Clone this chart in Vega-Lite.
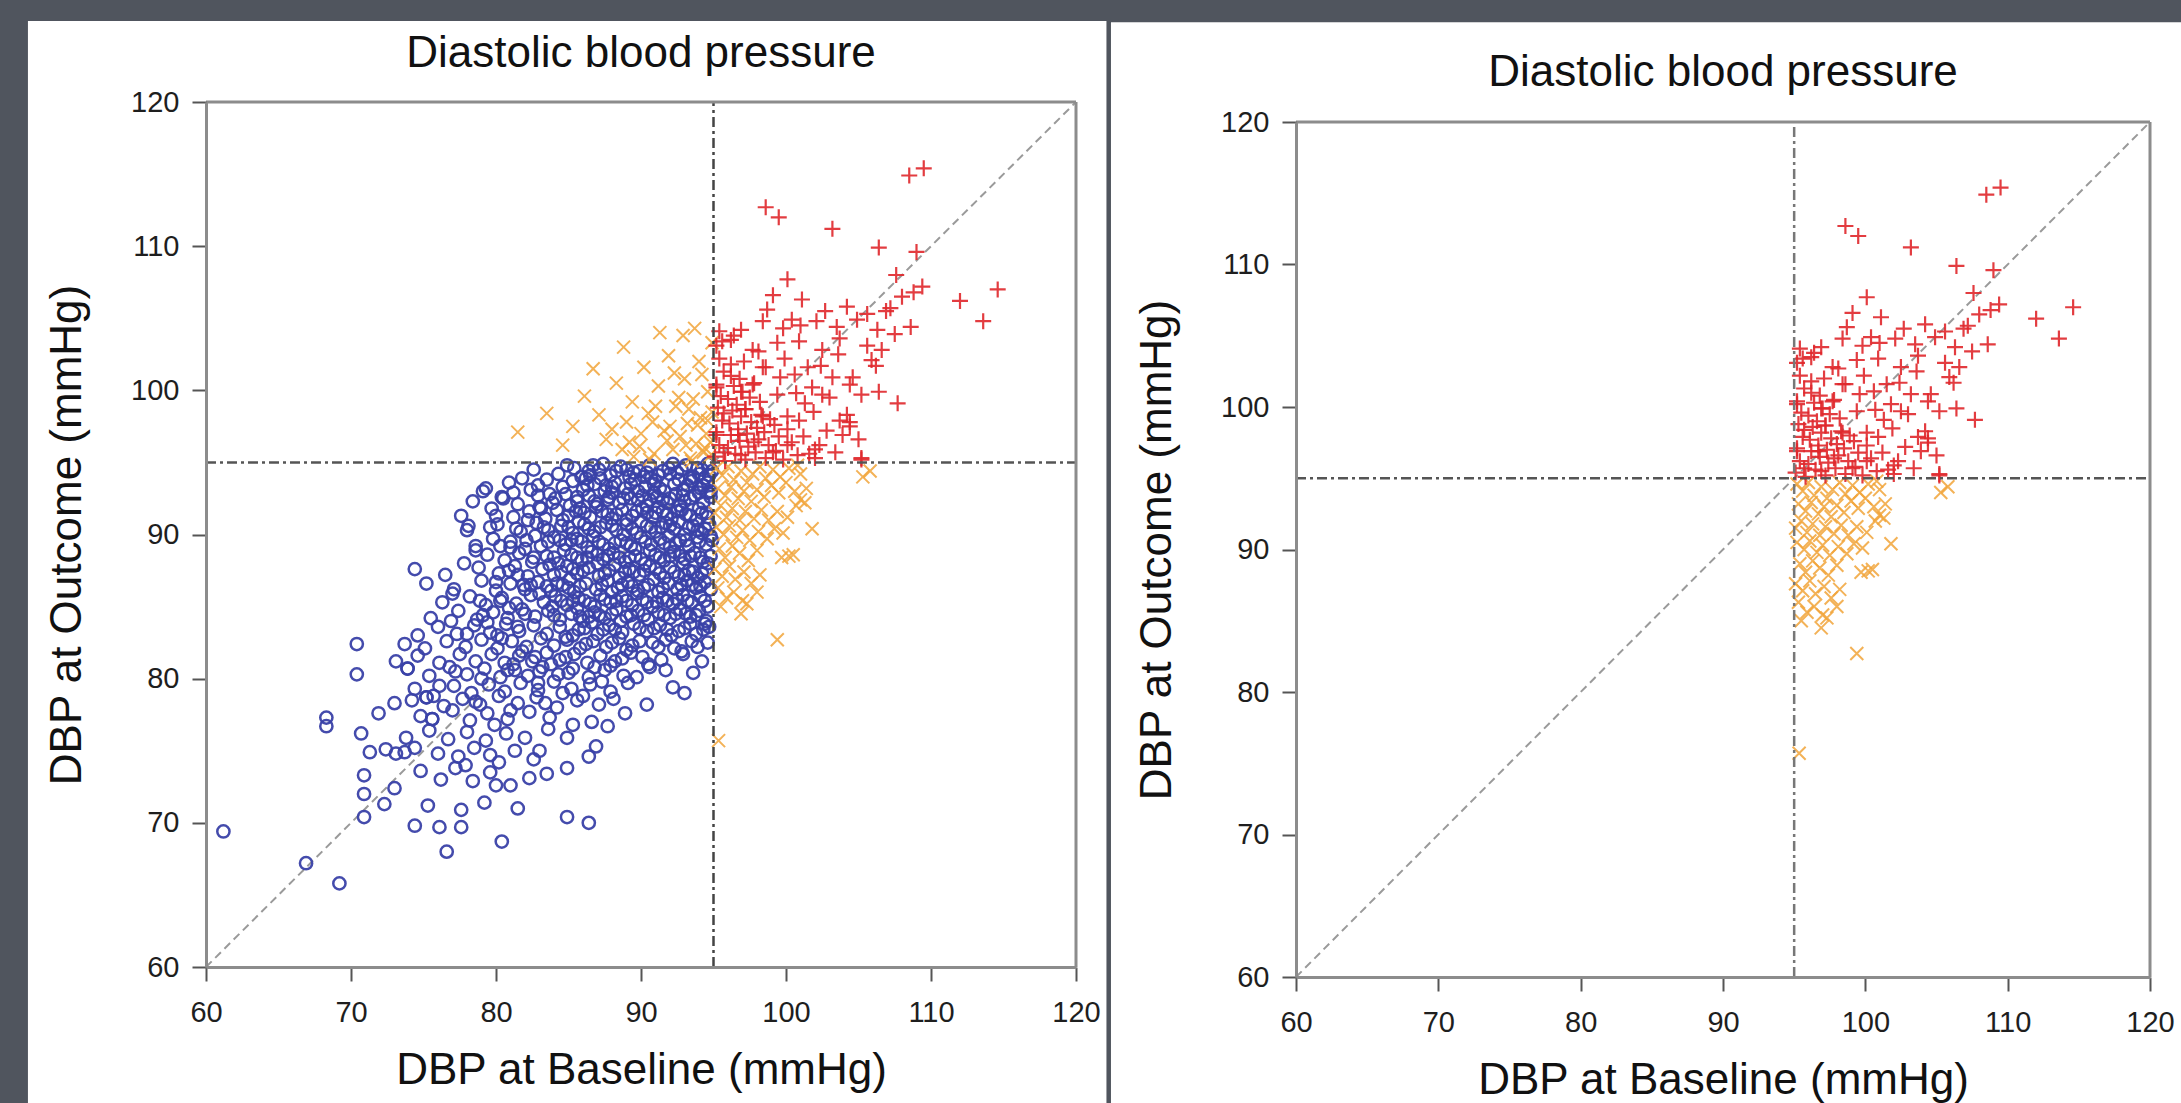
{
  "$schema": "https://vega.github.io/schema/vega-lite/v6.json",
  "background": "#50555e",
  "padding": {"left": 27, "top": 20, "right": 0, "bottom": 0},
  "bounds": "flush",
  "spacing": 220,
  "config": {
    "font": "Liberation Sans",
    "view": {"stroke": null},
    "axis": {"grid": false, "domainColor": "#8c8c8c", "domainWidth": 3, "tickColor": "#555555", "tickWidth": 2, "tickSize": 14, "labelFontSize": 29, "labelColor": "#1e1e1e", "labelFlush": false, "labelFont": "Liberation Sans", "titleFont": "Liberation Sans", "titleFontSize": 44, "titleFontWeight": "normal", "titleColor": "#111111"},
    "axisX": {"labelPadding": 17, "titlePadding": 21},
    "axisY": {"labelPadding": 13, "titlePadding": 41},
    "title": {"fontSize": 44, "fontWeight": "normal", "color": "#111111", "baseline": "alphabetic", "anchor": "middle", "frame": "group", "font": "Liberation Sans"}
  },
  "datasets": {
    "blue": [
      {"b":84.3,"o":94.2},{"b":85.4,"o":94.6},{"b":86.2,"o":93.9},{"b":87.1,"o":94.5},{"b":87.9,"o":94.1},{"b":88.6,"o":94.7},{"b":89.2,"o":94.0},{"b":89.9,"o":94.4},{"b":90.6,"o":94.8},{"b":91.2,"o":94.1},{"b":91.9,"o":94.6},{"b":92.5,"o":94.3},{"b":93.1,"o":94.8},{"b":93.6,"o":94.0},{"b":94.2,"o":94.5},{"b":94.7,"o":94.1},{"b":86.7,"o":94.8},{"b":88.3,"o":94.4},{"b":90.2,"o":94.0},{"b":92.2,"o":94.9},{"b":93.9,"o":94.6},{"b":94.6,"o":94.9},{"b":82.6,"o":94.5},{"b":85.9,"o":94.0},
      {"b":79.3,"o":93.2},{"b":80.9,"o":93.6},{"b":82.4,"o":93.1},{"b":83.5,"o":93.8},{"b":84.6,"o":93.3},{"b":85.3,"o":93.7},{"b":86.0,"o":93.1},{"b":86.8,"o":93.5},{"b":87.5,"o":93.0},{"b":88.2,"o":93.6},{"b":88.9,"o":93.2},{"b":89.6,"o":93.8},{"b":90.3,"o":93.3},{"b":91.0,"o":93.7},{"b":91.6,"o":93.0},{"b":92.3,"o":93.5},{"b":92.9,"o":93.1},{"b":93.5,"o":93.7},{"b":94.1,"o":93.2},{"b":94.6,"o":93.6},{"b":87.2,"o":93.9},{"b":90.7,"o":93.9},{"b":93.2,"o":93.4},{"b":94.8,"o":93.0},
      {"b":78.4,"o":92.3},{"b":80.4,"o":92.6},{"b":81.5,"o":92.1},{"b":82.9,"o":92.7},{"b":83.9,"o":92.2},{"b":84.8,"o":92.8},{"b":85.6,"o":92.3},{"b":86.4,"o":92.7},{"b":87.0,"o":92.1},{"b":87.8,"o":92.6},{"b":88.5,"o":92.2},{"b":89.1,"o":92.8},{"b":89.8,"o":92.4},{"b":90.4,"o":92.0},{"b":91.1,"o":92.6},{"b":91.8,"o":92.2},{"b":92.4,"o":92.8},{"b":93.0,"o":92.3},{"b":93.7,"o":92.7},{"b":94.3,"o":92.2},{"b":94.8,"o":92.6},{"b":85.1,"o":92.0},{"b":88.0,"o":92.9},{"b":90.9,"o":92.9},{"b":92.7,"o":92.0},{"b":94.0,"o":92.9},
      {"b":77.6,"o":91.3},{"b":79.7,"o":91.8},{"b":81.2,"o":91.2},{"b":82.3,"o":91.6},{"b":83.4,"o":91.1},{"b":84.2,"o":91.7},{"b":85.0,"o":91.3},{"b":85.8,"o":91.8},{"b":86.5,"o":91.2},{"b":87.3,"o":91.6},{"b":88.0,"o":91.1},{"b":88.7,"o":91.7},{"b":89.4,"o":91.3},{"b":90.1,"o":91.8},{"b":90.8,"o":91.2},{"b":91.5,"o":91.6},{"b":92.1,"o":91.1},{"b":92.8,"o":91.7},{"b":93.4,"o":91.3},{"b":94.0,"o":91.8},{"b":94.6,"o":91.2},{"b":86.9,"o":91.9},{"b":89.0,"o":91.0},{"b":91.2,"o":91.9},{"b":93.8,"o":91.0},{"b":83.0,"o":91.9},
      {"b":78.0,"o":90.3},{"b":80.1,"o":90.7},{"b":81.7,"o":90.2},{"b":82.8,"o":90.8},{"b":83.6,"o":90.3},{"b":84.5,"o":90.6},{"b":85.3,"o":90.1},{"b":86.1,"o":90.7},{"b":86.8,"o":90.2},{"b":87.6,"o":90.8},{"b":88.3,"o":90.3},{"b":89.0,"o":90.7},{"b":89.7,"o":90.1},{"b":90.4,"o":90.6},{"b":91.0,"o":90.2},{"b":91.7,"o":90.8},{"b":92.3,"o":90.4},{"b":93.0,"o":90.0},{"b":93.6,"o":90.6},{"b":94.2,"o":90.1},{"b":94.7,"o":90.7},{"b":85.7,"o":90.9},{"b":88.8,"o":90.0},{"b":92.6,"o":90.9},{"b":90.0,"o":90.9},{"b":94.4,"o":90.4},
      {"b":78.6,"o":89.2},{"b":79.8,"o":89.7},{"b":81.0,"o":89.1},{"b":82.1,"o":89.6},{"b":83.1,"o":89.2},{"b":84.0,"o":89.8},{"b":84.8,"o":89.3},{"b":85.6,"o":89.7},{"b":86.3,"o":89.1},{"b":87.1,"o":89.5},{"b":87.8,"o":89.0},{"b":88.6,"o":89.6},{"b":89.3,"o":89.2},{"b":90.0,"o":89.8},{"b":90.7,"o":89.3},{"b":91.3,"o":89.7},{"b":92.0,"o":89.1},{"b":92.7,"o":89.6},{"b":93.3,"o":89.2},{"b":93.9,"o":89.8},{"b":94.5,"o":89.3},{"b":82.7,"o":89.9},{"b":86.7,"o":89.9},{"b":89.6,"o":89.0},{"b":91.9,"o":89.9},{"b":94.9,"o":89.6},
      {"b":77.8,"o":88.0},{"b":79.4,"o":88.6},{"b":80.6,"o":88.2},{"b":81.6,"o":88.7},{"b":82.5,"o":88.1},{"b":83.5,"o":88.5},{"b":84.3,"o":88.0},{"b":85.2,"o":88.6},{"b":85.9,"o":88.2},{"b":86.6,"o":88.8},{"b":87.4,"o":88.3},{"b":88.1,"o":88.7},{"b":88.9,"o":88.1},{"b":89.6,"o":88.5},{"b":90.3,"o":88.0},{"b":91.0,"o":88.6},{"b":91.6,"o":88.2},{"b":92.3,"o":88.8},{"b":93.0,"o":88.3},{"b":93.7,"o":88.7},{"b":94.3,"o":88.1},{"b":94.8,"o":88.5},{"b":84.7,"o":88.9},{"b":87.0,"o":88.0},{"b":90.6,"o":88.9},{"b":92.9,"o":88.0},
      {"b":74.4,"o":87.6},{"b":76.5,"o":87.2},{"b":78.8,"o":87.7},{"b":80.2,"o":87.3},{"b":81.3,"o":87.8},{"b":82.2,"o":87.1},{"b":83.2,"o":87.6},{"b":84.0,"o":87.2},{"b":84.9,"o":87.8},{"b":85.6,"o":87.3},{"b":86.4,"o":87.7},{"b":87.1,"o":87.1},{"b":87.8,"o":87.5},{"b":88.5,"o":87.0},{"b":89.2,"o":87.6},{"b":89.9,"o":87.2},{"b":90.6,"o":87.8},{"b":91.3,"o":87.3},{"b":92.0,"o":87.7},{"b":92.6,"o":87.1},{"b":93.3,"o":87.5},{"b":93.9,"o":87.0},{"b":94.5,"o":87.6},{"b":83.7,"o":87.9},{"b":88.2,"o":87.9},{"b":91.6,"o":87.0},
      {"b":75.2,"o":86.6},{"b":77.1,"o":86.2},{"b":79.0,"o":86.8},{"b":80.0,"o":86.1},{"b":81.0,"o":86.6},{"b":82.0,"o":86.2},{"b":82.9,"o":86.7},{"b":83.8,"o":86.1},{"b":84.6,"o":86.5},{"b":85.4,"o":86.0},{"b":86.2,"o":86.6},{"b":86.9,"o":86.2},{"b":87.7,"o":86.8},{"b":88.4,"o":86.3},{"b":89.1,"o":86.7},{"b":89.8,"o":86.1},{"b":90.5,"o":86.5},{"b":91.2,"o":86.0},{"b":91.9,"o":86.6},{"b":92.5,"o":86.2},{"b":93.2,"o":86.8},{"b":93.8,"o":86.3},{"b":94.4,"o":86.7},{"b":85.1,"o":86.9},{"b":88.0,"o":86.0},{"b":90.9,"o":86.9},
      {"b":76.3,"o":85.3},{"b":78.2,"o":85.7},{"b":79.3,"o":85.1},{"b":80.4,"o":85.6},{"b":81.4,"o":85.2},{"b":82.4,"o":85.8},{"b":83.3,"o":85.3},{"b":84.1,"o":85.7},{"b":84.9,"o":85.1},{"b":85.7,"o":85.6},{"b":86.5,"o":85.2},{"b":87.2,"o":85.8},{"b":87.9,"o":85.3},{"b":88.7,"o":85.7},{"b":89.4,"o":85.1},{"b":90.1,"o":85.5},{"b":90.8,"o":85.0},{"b":91.5,"o":85.6},{"b":92.2,"o":85.2},{"b":92.9,"o":85.8},{"b":93.5,"o":85.3},{"b":94.1,"o":85.7},{"b":94.6,"o":85.0},{"b":83.0,"o":85.9},{"b":86.8,"o":85.0},{"b":89.7,"o":85.9},
      {"b":75.5,"o":84.2},{"b":77.4,"o":84.7},{"b":78.7,"o":84.1},{"b":79.8,"o":84.6},{"b":80.8,"o":84.2},{"b":81.8,"o":84.8},{"b":82.7,"o":84.3},{"b":83.6,"o":84.7},{"b":84.4,"o":84.1},{"b":85.2,"o":84.5},{"b":86.0,"o":84.0},{"b":86.8,"o":84.6},{"b":87.5,"o":84.2},{"b":88.3,"o":84.8},{"b":89.0,"o":84.3},{"b":89.8,"o":84.7},{"b":90.5,"o":84.1},{"b":91.2,"o":84.6},{"b":92.0,"o":84.2},{"b":92.7,"o":84.8},{"b":93.4,"o":84.3},{"b":94.0,"o":84.7},{"b":94.5,"o":84.0},{"b":85.6,"o":84.9},{"b":88.6,"o":84.0},
      {"b":74.6,"o":83.0},{"b":76.0,"o":83.6},{"b":77.3,"o":83.1},{"b":78.5,"o":83.7},{"b":79.6,"o":83.2},{"b":80.7,"o":83.8},{"b":81.6,"o":83.3},{"b":82.6,"o":83.7},{"b":83.5,"o":83.1},{"b":84.4,"o":83.6},{"b":85.3,"o":83.0},{"b":86.1,"o":83.5},{"b":87.0,"o":83.1},{"b":87.8,"o":83.7},{"b":88.7,"o":83.2},{"b":89.5,"o":83.8},{"b":90.4,"o":83.3},{"b":91.3,"o":83.7},{"b":92.1,"o":83.0},{"b":93.0,"o":83.5},{"b":93.8,"o":83.1},{"b":94.4,"o":83.8},
      {"b":73.7,"o":82.4},{"b":75.1,"o":82.1},{"b":76.6,"o":82.6},{"b":77.9,"o":82.2},{"b":79.0,"o":82.7},{"b":80.1,"o":82.1},{"b":81.1,"o":82.6},{"b":82.1,"o":82.2},{"b":83.1,"o":82.8},{"b":84.0,"o":82.3},{"b":84.9,"o":82.7},{"b":85.8,"o":82.1},{"b":86.7,"o":82.6},{"b":87.6,"o":82.2},{"b":88.5,"o":82.8},{"b":89.4,"o":82.3},{"b":90.8,"o":82.5},{"b":92.3,"o":82.1},{"b":93.5,"o":82.6},{"b":70.4,"o":82.4},
      {"b":73.1,"o":81.2},{"b":74.6,"o":81.6},{"b":76.1,"o":81.1},{"b":77.5,"o":81.7},{"b":78.6,"o":81.2},{"b":79.7,"o":81.7},{"b":80.6,"o":81.1},{"b":81.6,"o":81.6},{"b":82.5,"o":81.2},{"b":83.5,"o":81.8},{"b":84.4,"o":81.3},{"b":85.4,"o":81.7},{"b":86.3,"o":81.1},{"b":87.2,"o":81.6},{"b":88.2,"o":81.2},{"b":89.3,"o":81.8},{"b":91.4,"o":81.3},{"b":92.9,"o":81.7},
      {"b":70.4,"o":80.3},{"b":73.9,"o":80.7},{"b":75.4,"o":80.2},{"b":76.8,"o":80.8},{"b":78.0,"o":80.3},{"b":79.2,"o":80.7},{"b":80.3,"o":80.1},{"b":81.3,"o":80.6},{"b":82.2,"o":80.2},{"b":83.2,"o":80.8},{"b":84.3,"o":80.3},{"b":85.3,"o":80.7},{"b":86.4,"o":80.1},{"b":87.5,"o":80.6},{"b":88.8,"o":80.2},{"b":90.6,"o":80.8},{"b":92.2,"o":79.4},{"b":93.6,"o":80.4},
      {"b":74.4,"o":79.3},{"b":75.7,"o":78.8},{"b":77.1,"o":79.5},{"b":78.3,"o":79.0},{"b":79.5,"o":79.6},{"b":80.6,"o":79.1},{"b":81.7,"o":79.7},{"b":82.9,"o":79.2},{"b":84.0,"o":79.8},{"b":85.2,"o":79.3},{"b":86.5,"o":79.6},{"b":87.9,"o":79.1},{"b":89.1,"o":79.7},
      {"b":73.0,"o":78.3},{"b":75.2,"o":78.7},{"b":76.4,"o":78.1},{"b":77.7,"o":78.6},{"b":78.9,"o":78.2},{"b":80.2,"o":78.8},{"b":81.5,"o":78.3},{"b":82.8,"o":78.7},{"b":84.2,"o":78.0},{"b":85.6,"o":78.5},{"b":87.1,"o":78.2},{"b":90.4,"o":78.2},
      {"b":68.3,"o":77.3},{"b":68.3,"o":76.7},{"b":71.9,"o":77.6},{"b":74.8,"o":77.4},{"b":75.6,"o":77.2},{"b":77.0,"o":77.8},{"b":78.2,"o":77.1},{"b":79.4,"o":77.6},{"b":80.8,"o":77.2},{"b":82.3,"o":77.7},{"b":83.7,"o":77.3},{"b":86.6,"o":77.0},{"b":87.7,"o":76.7},
      {"b":70.7,"o":76.2},{"b":73.8,"o":75.9},{"b":75.4,"o":76.4},{"b":76.7,"o":75.8},{"b":78.0,"o":76.3},{"b":79.3,"o":75.7},{"b":80.7,"o":76.2},{"b":82.0,"o":75.9},{"b":83.6,"o":76.5},{"b":84.9,"o":75.9},{"b":86.9,"o":75.3},
      {"b":71.3,"o":74.9},{"b":72.4,"o":75.1},{"b":73.1,"o":74.8},{"b":73.7,"o":74.9},{"b":74.4,"o":75.2},{"b":77.4,"o":74.6},{"b":78.5,"o":75.2},{"b":79.6,"o":74.7},{"b":81.3,"o":75.0},{"b":82.6,"o":74.4},{"b":83.5,"o":73.4},{"b":84.9,"o":73.8},{"b":86.4,"o":74.6},
      {"b":70.9,"o":73.3},{"b":73.0,"o":72.4},{"b":74.8,"o":73.6},{"b":76.2,"o":73.0},{"b":77.2,"o":73.8},{"b":78.4,"o":72.9},{"b":79.6,"o":73.5},{"b":80.0,"o":72.6},{"b":81.0,"o":72.6},{"b":82.3,"o":73.1},
      {"b":70.9,"o":72.0},{"b":70.9,"o":70.4},{"b":72.3,"o":71.3},{"b":74.4,"o":69.8},{"b":76.1,"o":69.7},{"b":77.6,"o":69.7},{"b":77.6,"o":70.9},{"b":76.6,"o":68.0},{"b":80.4,"o":68.7},{"b":84.9,"o":70.4},{"b":86.4,"o":70.0},{"b":79.2,"o":71.4},{"b":81.5,"o":71.0},{"b":75.3,"o":71.2},
      {"b":61.2,"o":69.4},{"b":66.9,"o":67.2},{"b":69.2,"o":65.8},{"b":78.1,"o":90.6},{"b":79.1,"o":93.0},{"b":80.5,"o":92.5},{"b":83.1,"o":91.8},{"b":75.2,"o":78.7},{"b":75.6,"o":77.2},{"b":73.9,"o":80.7},
      {"b":86.4,"o":94.4},{"b":87.6,"o":93.4},{"b":89.5,"o":94.3},{"b":90.9,"o":93.5},{"b":92.0,"o":94.2},{"b":93.4,"o":93.9},{"b":94.4,"o":93.9},{"b":87.7,"o":92.4},{"b":89.3,"o":92.5},{"b":90.6,"o":92.4},{"b":92.0,"o":92.5},{"b":93.4,"o":92.5},{"b":94.5,"o":91.5},{"b":93.1,"o":91.4},{"b":91.8,"o":91.4},{"b":90.4,"o":91.5},{"b":88.3,"o":91.4},{"b":86.1,"o":91.5},{"b":85.0,"o":90.5},{"b":87.2,"o":90.5},{"b":89.4,"o":90.4},{"b":91.4,"o":90.5},{"b":93.3,"o":90.5},{"b":94.0,"o":89.5},{"b":92.4,"o":89.4},{"b":90.3,"o":89.5},{"b":88.2,"o":89.4},{"b":85.9,"o":89.5},{"b":84.4,"o":89.6},{"b":86.3,"o":88.4},{"b":87.7,"o":88.5},{"b":89.2,"o":88.4},{"b":91.3,"o":88.4},{"b":92.7,"o":88.5},{"b":94.1,"o":88.4},{"b":93.6,"o":87.4},{"b":92.3,"o":87.4},{"b":90.2,"o":87.5},{"b":88.9,"o":87.4},{"b":86.0,"o":87.5},{"b":84.5,"o":87.4},{"b":85.0,"o":86.3},{"b":87.3,"o":86.5},{"b":89.4,"o":86.4},{"b":90.2,"o":86.3},{"b":92.8,"o":86.5},{"b":94.1,"o":86.4},{"b":93.2,"o":85.4},{"b":91.8,"o":85.4},{"b":90.4,"o":85.3},{"b":88.3,"o":85.4},{"b":86.1,"o":85.4},{"b":84.5,"o":85.4},{"b":85.8,"o":84.3},{"b":87.1,"o":84.4},{"b":89.3,"o":84.4},{"b":91.6,"o":84.4},{"b":93.1,"o":84.5},{"b":94.3,"o":83.4},{"b":90.9,"o":83.5},{"b":88.2,"o":83.4},{"b":86.6,"o":83.9},{"b":89.9,"o":82.6},{"b":91.7,"o":82.7},{"b":92.8,"o":81.9},{"b":90.1,"o":81.5},{"b":87.9,"o":80.9},{"b":84.8,"o":81.5},{"b":83.0,"o":80.5},{"b":81.8,"o":81.9},{"b":80.1,"o":83.0},{"b":79.1,"o":84.4},{"b":80.3,"o":85.4},{"b":81.9,"o":86.5},{"b":83.5,"o":86.4},{"b":82.6,"o":88.4},{"b":81.0,"o":89.5},{"b":80.9,"o":87.5},{"b":83.3,"o":90.5},{"b":84.1,"o":92.5},{"b":82.9,"o":93.4},{"b":81.8,"o":93.9},
      {"b":84.9,"o":94.8},{"b":86.5,"o":94.1},{"b":87.4,"o":94.9},{"b":88.0,"o":93.3},{"b":89.0,"o":94.5},{"b":89.8,"o":93.0},{"b":90.4,"o":94.3},{"b":91.5,"o":94.4},{"b":92.8,"o":94.5},{"b":94.0,"o":94.2},{"b":94.9,"o":94.4},{"b":94.3,"o":93.4},{"b":92.6,"o":93.8},{"b":91.3,"o":93.2},{"b":89.3,"o":93.5},{"b":86.3,"o":93.4},{"b":85.6,"o":92.6},{"b":86.8,"o":92.3},{"b":88.8,"o":92.5},{"b":90.1,"o":92.7},{"b":91.5,"o":92.4},{"b":92.9,"o":92.7},{"b":94.6,"o":92.9},{"b":94.2,"o":91.5},{"b":92.5,"o":91.6},{"b":91.0,"o":91.5},{"b":89.7,"o":91.6},{"b":87.7,"o":91.4},{"b":85.5,"o":91.6},{"b":84.6,"o":91.0},{"b":86.4,"o":90.4},{"b":88.0,"o":90.6},{"b":90.7,"o":90.5},{"b":92.0,"o":90.6},{"b":93.9,"o":90.3},{"b":94.8,"o":89.9},{"b":93.1,"o":89.6},{"b":91.6,"o":89.4},{"b":89.0,"o":89.4},{"b":87.4,"o":89.3},{"b":85.2,"o":89.6},{"b":83.6,"o":89.5},{"b":84.0,"o":88.4},{"b":85.6,"o":88.4},{"b":87.0,"o":88.6},{"b":88.5,"o":88.4},{"b":90.0,"o":88.3},{"b":92.0,"o":88.5},{"b":93.4,"o":88.5},{"b":94.6,"o":88.0},{"b":94.2,"o":87.3},{"b":93.0,"o":87.2},{"b":91.0,"o":87.6},{"b":89.5,"o":87.4},{"b":87.5,"o":87.3},{"b":85.3,"o":87.6},{"b":84.2,"o":86.6},{"b":85.8,"o":86.4},{"b":88.7,"o":86.5},{"b":91.5,"o":86.3},{"b":93.5,"o":86.5},{"b":94.8,"o":86.2},{"b":94.4,"o":85.4},{"b":92.5,"o":85.5},{"b":91.1,"o":85.3},{"b":89.0,"o":85.4},{"b":87.5,"o":85.5},{"b":85.3,"o":85.4},{"b":84.0,"o":84.4},{"b":86.4,"o":84.3},{"b":88.0,"o":84.5},{"b":90.2,"o":84.4},{"b":92.4,"o":84.5},{"b":93.8,"o":84.4},{"b":94.7,"o":83.6},{"b":93.4,"o":83.8},{"b":91.8,"o":83.4},{"b":89.9,"o":83.5},{"b":87.4,"o":83.4},{"b":85.7,"o":83.4},{"b":84.8,"o":82.9},{"b":86.2,"o":82.4},{"b":88.0,"o":82.5},{"b":89.0,"o":82.0},{"b":91.2,"o":82.2},{"b":93.9,"o":82.2},{"b":90.5,"o":81.0},{"b":88.7,"o":81.4},{"b":86.8,"o":80.8},{"b":85.0,"o":80.4},{"b":83.8,"o":81.0},{"b":82.7,"o":81.5},{"b":81.2,"o":81.0},{"b":80.4,"o":82.8},{"b":81.5,"o":83.6},{"b":82.0,"o":84.5},{"b":80.9,"o":84.9},{"b":79.4,"o":83.9},{"b":78.9,"o":85.4},{"b":80.0,"o":86.7},{"b":81.5,"o":87.2},{"b":82.4,"o":86.5},{"b":83.9,"o":85.0},{"b":82.0,"o":89.0},{"b":80.3,"o":89.2},{"b":79.6,"o":90.5},{"b":81.4,"o":90.4},{"b":82.2,"o":91.0},{"b":83.7,"o":92.8},{"b":81.2,"o":92.9},{"b":80.0,"o":91.3},{"b":78.6,"o":88.9},{"b":77.0,"o":85.9},{"b":76.9,"o":84.0},{"b":78.0,"o":83.1},{"b":77.2,"o":80.5},{"b":79.0,"o":80.0},{"b":80.8,"o":80.6},{"b":82.9,"o":79.7},{"b":84.6,"o":79.0},{"b":86.0,"o":78.8},{"b":88.1,"o":78.6},{"b":89.7,"o":80.1},{"b":91.7,"o":80.6},{"b":93.0,"o":79.0},{"b":94.2,"o":81.2},{"b":94.6,"o":82.5},{"b":92.6,"o":83.3},{"b":87.3,"o":79.8},{"b":83.4,"o":78.3},{"b":81.0,"o":77.8},{"b":79.9,"o":76.8},{"b":78.6,"o":78.4},{"b":76.1,"o":79.5},{"b":74.2,"o":78.5},{"b":76.0,"o":74.8},{"b":77.9,"o":74.0},{"b":80.2,"o":74.2},{"b":83.0,"o":75.0},{"b":85.3,"o":76.8},{"b":88.9,"o":77.6}
    ],
    "orange": [
      {"b":81.5,"o":97.1},{"b":83.5,"o":98.4},{"b":85.3,"o":97.5},{"b":86.1,"o":99.6},{"b":87.1,"o":98.3},{"b":87.6,"o":96.6},{"b":88.3,"o":100.5},{"b":88.8,"o":103.0},{"b":89.0,"o":97.8},{"b":89.4,"o":99.2},{"b":89.9,"o":96.1},{"b":90.2,"o":101.6},{"b":90.5,"o":98.4},{"b":90.9,"o":95.6},{"b":91.2,"o":100.3},{"b":91.6,"o":97.2},{"b":91.9,"o":102.4},{"b":92.2,"o":95.9},{"b":92.4,"o":98.9},{"b":92.7,"o":96.8},{"b":93.0,"o":100.8},{"b":93.2,"o":97.7},{"b":93.4,"o":95.3},{"b":93.6,"o":99.4},{"b":93.8,"o":96.3},{"b":94.0,"o":102.0},{"b":94.1,"o":98.1},{"b":94.3,"o":95.7},{"b":94.5,"o":97.0},{"b":94.6,"o":99.9},{"b":94.8,"o":96.4},{"b":94.9,"o":103.3},{"b":92.9,"o":103.8},{"b":91.3,"o":104.0},{"b":90.6,"o":95.2},{"b":89.5,"o":95.4},{"b":88.7,"o":95.9},{"b":94.2,"o":101.1},{"b":93.7,"o":104.3},{"b":94.9,"o":98.5},{"b":92.0,"o":97.5},{"b":93.1,"o":96.2},{"b":94.4,"o":96.0},{"b":93.9,"o":97.6},{"b":92.6,"o":99.5},{"b":91.0,"o":98.9},{"b":90.0,"o":97.0},{"b":94.7,"o":95.4},{"b":92.3,"o":101.2},{"b":86.7,"o":101.5},{"b":84.6,"o":96.2},{"b":88.0,"o":97.3},{"b":93.5,"o":95.1},{"b":91.8,"o":96.5},{"b":94.6,"o":97.9},{"b":93.3,"o":98.7},{"b":90.8,"o":97.8},{"b":89.2,"o":96.4},
      {"b":95.2,"o":94.6},{"b":95.6,"o":94.1},{"b":96.0,"o":94.7},{"b":96.4,"o":93.8},{"b":96.9,"o":94.4},{"b":97.3,"o":93.6},{"b":97.7,"o":94.2},{"b":98.2,"o":94.7},{"b":98.6,"o":93.9},{"b":99.1,"o":94.5},{"b":99.6,"o":94.0},{"b":100.2,"o":94.6},{"b":95.3,"o":93.2},{"b":95.8,"o":92.7},{"b":96.2,"o":93.3},{"b":96.7,"o":92.5},{"b":97.1,"o":93.0},{"b":97.6,"o":92.3},{"b":98.0,"o":93.1},{"b":98.5,"o":92.6},{"b":99.0,"o":93.4},{"b":99.5,"o":92.9},{"b":100.0,"o":93.6},{"b":100.6,"o":93.0},{"b":101.0,"o":92.4},{"b":101.4,"o":93.2},{"b":95.1,"o":91.5},{"b":95.5,"o":92.0},{"b":95.9,"o":91.2},{"b":96.3,"o":91.8},{"b":96.8,"o":91.0},{"b":97.2,"o":91.6},{"b":97.8,"o":91.1},{"b":98.3,"o":91.7},{"b":98.8,"o":91.0},{"b":99.4,"o":91.6},{"b":100.1,"o":91.2},{"b":100.7,"o":92.0},{"b":101.3,"o":92.2},{"b":95.2,"o":90.5},{"b":95.7,"o":90.0},{"b":96.1,"o":90.6},{"b":96.6,"o":89.8},{"b":97.0,"o":90.3},{"b":97.5,"o":89.6},{"b":98.1,"o":90.2},{"b":98.7,"o":89.7},{"b":99.2,"o":90.4},{"b":99.8,"o":90.1},{"b":101.8,"o":90.4},{"b":95.4,"o":89.0},{"b":95.8,"o":88.4},{"b":96.3,"o":89.2},{"b":96.8,"o":88.7},{"b":97.4,"o":88.2},{"b":98.0,"o":88.9},{"b":99.7,"o":88.4},{"b":100.2,"o":88.5},{"b":100.5,"o":88.6},{"b":95.1,"o":87.6},{"b":95.6,"o":87.1},{"b":96.1,"o":87.8},{"b":96.5,"o":86.9},{"b":97.1,"o":87.4},{"b":97.6,"o":86.6},{"b":98.2,"o":87.2},{"b":95.3,"o":86.3},{"b":95.9,"o":85.6},{"b":96.4,"o":86.0},{"b":97.0,"o":85.4},{"b":96.9,"o":84.5},{"b":97.3,"o":85.2},{"b":95.5,"o":85.0},{"b":98.0,"o":86.0},{"b":99.4,"o":82.7},{"b":95.35,"o":75.7},{"b":105.3,"o":94.0},{"b":105.8,"o":94.4},{"b":101.0,"o":94.2},{"b":100.8,"o":94.8}
    ],
    "red": [
      {"b":108.5,"o":114.9},{"b":109.5,"o":115.4},{"b":98.6,"o":112.7},{"b":99.5,"o":112.0},{"b":103.2,"o":111.2},{"b":106.4,"o":109.9},{"b":109.0,"o":109.6},{"b":100.1,"o":107.7},{"b":107.6,"o":108.0},{"b":108.8,"o":106.8},{"b":112.0,"o":106.2},{"b":114.6,"o":107.0},{"b":113.6,"o":104.8},{"b":102.7,"o":105.5},{"b":104.2,"o":105.8},{"b":105.6,"o":105.3},{"b":106.9,"o":105.5},{"b":108.6,"o":104.4},{"b":98.4,"o":104.8},{"b":99.8,"o":104.3},{"b":101.0,"o":104.5},{"b":95.2,"o":103.1},{"b":96.4,"o":103.8},{"b":97.7,"o":102.8},{"b":99.4,"o":103.3},{"b":102.5,"o":102.8},{"b":103.7,"o":103.6},{"b":105.9,"o":102.1},{"b":106.6,"o":102.8},{"b":96.2,"o":101.8},{"b":98.6,"o":101.6},{"b":100.6,"o":101.1},{"b":101.5,"o":101.6},{"b":103.2,"o":100.9},{"b":104.4,"o":100.4},{"b":95.2,"o":100.2},{"b":96.9,"o":99.9},{"b":97.7,"o":100.4},{"b":99.4,"o":99.7},{"b":102.5,"o":99.7},{"b":105.2,"o":99.7},{"b":106.4,"o":99.9},{"b":107.7,"o":99.1},{"b":95.7,"o":98.4},{"b":97.2,"o":98.7},{"b":98.4,"o":98.2},{"b":100.1,"o":98.2},{"b":101.3,"o":99.1},{"b":103.7,"o":97.9},{"b":104.4,"o":97.5},{"b":95.2,"o":96.9},{"b":96.7,"o":96.9},{"b":97.8,"o":96.4},{"b":100.1,"o":96.2},{"b":102.0,"o":95.9},{"b":105.2,"o":95.3},{"b":95.7,"o":95.7},{"b":96.9,"o":95.5},{"b":99.1,"o":95.7},{"b":100.8,"o":95.5},
      {"b":95.1,"o":95.4},{"b":95.4,"o":96.2},{"b":95.2,"o":97.1},{"b":95.6,"o":97.9},{"b":95.3,"o":98.8},{"b":95.5,"o":99.6},{"b":95.2,"o":100.4},{"b":95.7,"o":101.3},{"b":95.4,"o":102.2},{"b":95.8,"o":95.1},{"b":96.0,"o":96.0},{"b":96.2,"o":96.9},{"b":96.1,"o":97.7},{"b":96.3,"o":98.6},{"b":96.0,"o":99.4},{"b":96.4,"o":100.3},{"b":96.2,"o":101.0},{"b":96.5,"o":95.6},{"b":96.8,"o":96.5},{"b":96.7,"o":97.3},{"b":96.9,"o":98.2},{"b":96.6,"o":99.0},{"b":97.0,"o":99.9},{"b":96.8,"o":100.8},{"b":97.2,"o":95.2},{"b":97.4,"o":96.1},{"b":97.3,"o":97.0},{"b":97.6,"o":97.8},{"b":97.2,"o":98.7},{"b":97.5,"o":99.5},{"b":97.8,"o":100.5},{"b":97.9,"o":95.7},{"b":98.1,"o":96.6},{"b":98.0,"o":97.4},{"b":98.3,"o":98.3},{"b":98.2,"o":99.2},{"b":98.6,"o":95.3},{"b":98.8,"o":96.2},{"b":98.5,"o":97.1},{"b":98.9,"o":98.0},{"b":99.3,"o":95.8},{"b":99.5,"o":96.8},{"b":99.2,"o":97.6},{"b":99.8,"o":95.2},{"b":100.1,"o":97.3},{"b":100.4,"o":96.4},{"b":100.9,"o":97.9},{"b":101.2,"o":96.8},{"b":101.6,"o":95.6},{"b":101.9,"o":98.5},{"b":102.3,"o":96.2},{"b":102.8,"o":97.2},{"b":103.4,"o":95.7},{"b":103.9,"o":96.9},{"b":104.2,"o":98.3},{"b":105.0,"o":96.6},{"b":103.0,"o":99.5},{"b":100.7,"o":99.8},{"b":101.8,"o":100.2},{"b":99.6,"o":100.9},{"b":98.4,"o":101.6},{"b":97.1,"o":102.0},{"b":98.1,"o":102.7},{"b":96.2,"o":103.5},{"b":96.9,"o":104.2},{"b":95.6,"o":103.4},{"b":95.4,"o":104.1},{"b":99.9,"o":102.2},{"b":100.9,"o":103.4},{"b":102.4,"o":101.7},{"b":103.6,"o":102.5},{"b":104.6,"o":100.9},{"b":105.6,"o":103.1},{"b":104.9,"o":104.9},{"b":106.3,"o":104.2},{"b":107.2,"o":105.7},{"b":107.5,"o":103.9},{"b":106.2,"o":101.7},{"b":108.0,"o":106.5},{"b":109.4,"o":107.2},{"b":98.7,"o":105.6},{"b":100.4,"o":104.9},{"b":102.1,"o":104.8},{"b":103.5,"o":104.4},{"b":101.1,"o":106.3},{"b":99.1,"o":106.6},{"b":105.2,"o":95.2},{"b":102.0,"o":95.3},{"b":104.4,"o":97.8}
    ]
  },
  "hconcat": [
    {
      "width": 870,
      "height": 865,
      "title": {"text": "Diastolic blood pressure", "offset": -55},
      "layer": [
        {
          "data": {"values": [{}]},
          "mark": {"type": "rect", "color": "#ffffff", "clip": false},
          "encoding": {
            "x": {"datum": 47.72, "type": "quantitative", "scale": {"domain": [60, 120], "nice": false, "zero": false}, "title": "DBP at Baseline (mmHg)", "axis": {"values": [60, 70, 80, 90, 100, 110, 120], "zindex": 1}},
            "x2": {"datum": 122.1},
            "y": {"datum": 125.62, "type": "quantitative", "scale": {"domain": [60, 120], "nice": false, "zero": false}, "title": "DBP at Outcome (mmHg)", "axis": {"values": [60, 70, 80, 90, 100, 110, 120], "zindex": 1}},
            "y2": {"datum": 50.5}
          }
        },
        {
          "data": {"values": [{}]},
          "mark": {"type": "rule", "color": "#9a9a9a", "strokeWidth": 2, "strokeDash": [8, 5]},
          "encoding": {"x": {"datum": 60, "type": "quantitative"}, "y": {"datum": 60, "type": "quantitative"}, "x2": {"datum": 120}, "y2": {"datum": 120}}
        },
        {
          "data": {"name": "blue"},
          "mark": {"type": "point", "shape": "circle", "filled": false, "size": 150, "strokeWidth": 2.5, "color": "#3a42a8", "opacity": 0.95},
          "encoding": {
            "x": {"field": "b", "type": "quantitative", "title": "DBP at Baseline (mmHg)"},
            "y": {"field": "o", "type": "quantitative", "title": "DBP at Outcome (mmHg)"}
          }
        },
        {
          "data": {"name": "orange"},
          "mark": {"type": "point", "shape": "M-1,-1L1,1M-1,1L1,-1", "filled": false, "size": 169, "strokeWidth": 2, "color": "#f2a53a", "opacity": 0.85},
          "encoding": {
            "x": {"field": "b", "type": "quantitative", "title": "DBP at Baseline (mmHg)"},
            "y": {"field": "o", "type": "quantitative", "title": "DBP at Outcome (mmHg)"}
          }
        },
        {
          "data": {"name": "red"},
          "mark": {"type": "point", "shape": "M-1,0L1,0M0,-1L0,1", "filled": false, "size": 256, "strokeWidth": 2.2, "color": "#e0282c", "opacity": 0.9},
          "encoding": {
            "x": {"field": "b", "type": "quantitative", "title": "DBP at Baseline (mmHg)"},
            "y": {"field": "o", "type": "quantitative", "title": "DBP at Outcome (mmHg)"}
          }
        },
        {
          "data": {"values": [{}]},
          "mark": {"type": "rule", "color": "#444444", "strokeWidth": 2.5, "strokeDash": [10, 4, 3, 4]},
          "encoding": {"x": {"datum": 95, "type": "quantitative"}, "y": {"datum": 60, "type": "quantitative"}, "y2": {"datum": 120}}
        },
        {
          "data": {"values": [{}]},
          "mark": {"type": "rule", "color": "#555555", "strokeWidth": 2.5, "strokeDash": [10, 4, 3, 4]},
          "encoding": {"y": {"datum": 95, "type": "quantitative"}, "x": {"datum": 60, "type": "quantitative"}, "x2": {"datum": 120}}
        },
        {
          "data": {"values": [{}]},
          "mark": {"type": "rule", "color": "#8c8c8c", "strokeWidth": 3},
          "encoding": {"y": {"datum": 120, "type": "quantitative"}, "x": {"datum": 60, "type": "quantitative"}, "x2": {"datum": 120}}
        },
        {
          "data": {"values": [{}]},
          "mark": {"type": "rule", "color": "#8c8c8c", "strokeWidth": 3},
          "encoding": {"x": {"datum": 120, "type": "quantitative"}, "y": {"datum": 60, "type": "quantitative"}, "y2": {"datum": 120}}
        }
      ]
    },
    {
      "width": 854,
      "height": 875,
      "title": {"text": "Diastolic blood pressure", "offset": -73},
      "layer": [
        {
          "data": {"values": [{}]},
          "mark": {"type": "rect", "color": "#ffffff", "clip": false},
          "encoding": {
            "x": {"datum": 47.0, "type": "quantitative", "scale": {"domain": [60, 120], "nice": false, "zero": false}, "title": "DBP at Baseline (mmHg)", "axis": {"values": [60, 70, 80, 90, 100, 110, 120], "zindex": 1}},
            "x2": {"datum": 122.3},
            "y": {"datum": 127.0, "type": "quantitative", "scale": {"domain": [60, 120], "nice": false, "zero": false, "range": [875, 20]}, "title": "DBP at Outcome (mmHg)", "axis": {"values": [60, 70, 80, 90, 100, 110, 120], "zindex": 1}},
            "y2": {"datum": 51.09}
          }
        },
        {
          "data": {"values": [{}]},
          "mark": {"type": "rule", "color": "#9a9a9a", "strokeWidth": 2, "strokeDash": [8, 5]},
          "encoding": {"x": {"datum": 60, "type": "quantitative"}, "y": {"datum": 60, "type": "quantitative"}, "x2": {"datum": 120}, "y2": {"datum": 120}}
        },
        {
          "data": {"name": "orange"},
          "transform": [{"filter": "datum.b >= 95"}],
          "mark": {"type": "point", "shape": "M-1,-1L1,1M-1,1L1,-1", "filled": false, "size": 169, "strokeWidth": 2, "color": "#f2a53a", "opacity": 0.85},
          "encoding": {
            "x": {"field": "b", "type": "quantitative", "title": "DBP at Baseline (mmHg)"},
            "y": {"field": "o", "type": "quantitative", "title": "DBP at Outcome (mmHg)"}
          }
        },
        {
          "data": {"name": "red"},
          "mark": {"type": "point", "shape": "M-1,0L1,0M0,-1L0,1", "filled": false, "size": 256, "strokeWidth": 2.2, "color": "#e0282c", "opacity": 0.9},
          "encoding": {
            "x": {"field": "b", "type": "quantitative", "title": "DBP at Baseline (mmHg)"},
            "y": {"field": "o", "type": "quantitative", "title": "DBP at Outcome (mmHg)"}
          }
        },
        {
          "data": {"values": [{}]},
          "mark": {"type": "rule", "color": "#777777", "strokeWidth": 2.5, "strokeDash": [10, 4, 3, 4]},
          "encoding": {"x": {"datum": 95, "type": "quantitative"}, "y": {"datum": 60, "type": "quantitative"}, "y2": {"datum": 120}}
        },
        {
          "data": {"values": [{}]},
          "mark": {"type": "rule", "color": "#555555", "strokeWidth": 2.5, "strokeDash": [10, 4, 3, 4]},
          "encoding": {"y": {"datum": 95, "type": "quantitative"}, "x": {"datum": 60, "type": "quantitative"}, "x2": {"datum": 120}}
        },
        {
          "data": {"values": [{}]},
          "mark": {"type": "rule", "color": "#8c8c8c", "strokeWidth": 3},
          "encoding": {"y": {"datum": 120, "type": "quantitative"}, "x": {"datum": 60, "type": "quantitative"}, "x2": {"datum": 120}}
        },
        {
          "data": {"values": [{}]},
          "mark": {"type": "rule", "color": "#8c8c8c", "strokeWidth": 3},
          "encoding": {"x": {"datum": 120, "type": "quantitative"}, "y": {"datum": 60, "type": "quantitative"}, "y2": {"datum": 120}}
        }
      ]
    }
  ]
}
